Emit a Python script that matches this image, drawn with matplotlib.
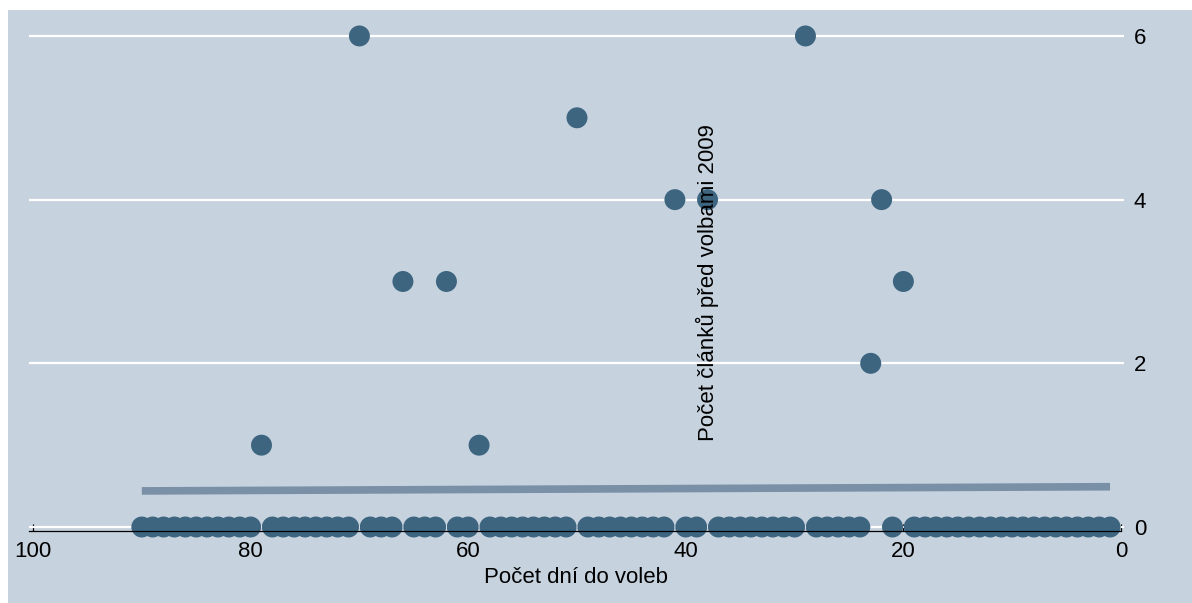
import numpy as np
import matplotlib
matplotlib.use("Agg")
import matplotlib.pyplot as plt
from matplotlib.patches import Rectangle

plt.rcParams["font.family"] = ["Liberation Sans", "DejaVu Sans"]

# Days before the 2009 election and number of articles published on each day
days = list(range(90, 0, -1))
articles = [
    0, 0, 0, 0, 0, 0, 0, 0, 0, 0, 0,   # 90-80
    1,                                  # 79
    0, 0, 0, 0, 0, 0, 0, 0,             # 78-71
    6,                                  # 70
    0, 0, 0,                            # 69-67
    3,                                  # 66
    0, 0, 0,                            # 65-63
    3,                                  # 62
    0, 0,                               # 61-60
    1,                                  # 59
    0, 0, 0, 0, 0, 0, 0, 0,             # 58-51
    5,                                  # 50
    0, 0, 0, 0, 0, 0, 0, 0,             # 49-42
    4,                                  # 41
    0, 0,                               # 40-39
    4,                                  # 38
    0, 0, 0, 0, 0, 0, 0, 0,             # 37-30
    6,                                  # 29
    0, 0, 0, 0, 0,                      # 28-24
    2,                                  # 23
    4,                                  # 22
    0,                                  # 21
    3,                                  # 20
    0, 0, 0, 0, 0, 0, 0, 0, 0, 0,
    0, 0, 0, 0, 0, 0, 0, 0, 0,          # 19-1
]
x_ticks = [100, 80, 60, 40, 20, 0]
y_ticks = [0, 2, 4, 6]
x_title = "Počet dní do voleb"
y_title = "Počet článků před volbami 2009"

BG = "#c6d3df"
DOT = "#3e6580"
FIT = "#7a90a7"

W, H = 1192, 603
fig = plt.figure(figsize=(W / 100, H / 100), dpi=100, facecolor="white")
# shaded graph region
fig.patches.append(Rectangle((8 / W, 0), 1 - 8 / W, 1 - 10 / H,
                             transform=fig.transFigure, facecolor=BG,
                             edgecolor="none", zorder=-10))

ax_left, ax_right = 29, 1124
ax_top, ax_bottom = 15.5, 531.1
ax = fig.add_axes([ax_left / W, 1 - ax_bottom / H,
                   (ax_right - ax_left) / W, (ax_bottom - ax_top) / H])
ax.set_zorder(1)
ax.set_facecolor("none")

x = np.array(days, dtype=float)
y = np.array(articles, dtype=float)

# linear fit
slope, intercept = np.polyfit(x, y, 1)
xf = np.array([x.min(), x.max()])
ax.plot(xf, intercept + slope * xf, color=FIT, lw=5.5, solid_capstyle="butt", zorder=3)

ax.scatter(x, y, s=228, color=DOT, edgecolors="none", zorder=4, clip_on=False)

ax.set_xlim(100.37, -0.28)
ax.set_ylim(-0.05, 6.25)

ax.set_xticks(x_ticks)
ax.set_yticks(y_ticks)
ax.yaxis.tick_right()
ax.grid(axis="y", color="white", lw=1.6, zorder=1)
ax.set_axisbelow(True)

for s in ["top", "left", "right"]:
    ax.spines[s].set_visible(False)
ax.spines["bottom"].set_bounds(100.37, 0)
ax.spines["bottom"].set_color("black")
ax.spines["bottom"].set_linewidth(0.9)
ax.spines["bottom"].set_zorder(5)

ax.tick_params(axis="x", direction="in", length=5, width=0.9, pad=7,
               labelsize=16, colors="black")
ax.tick_params(axis="y", length=0, pad=7, labelsize=16, colors="black")

ax.set_xlabel(x_title, fontsize=16, labelpad=4)
# y-axis title sits inside the plot area, drawn on top of the whole axes
fig.text(0.62, 0.483, y_title, transform=ax.transAxes, rotation=90,
         ha="center", va="center", fontsize=16, color="black", zorder=5)

fig.savefig("out.png", dpi=100, facecolor="white")
